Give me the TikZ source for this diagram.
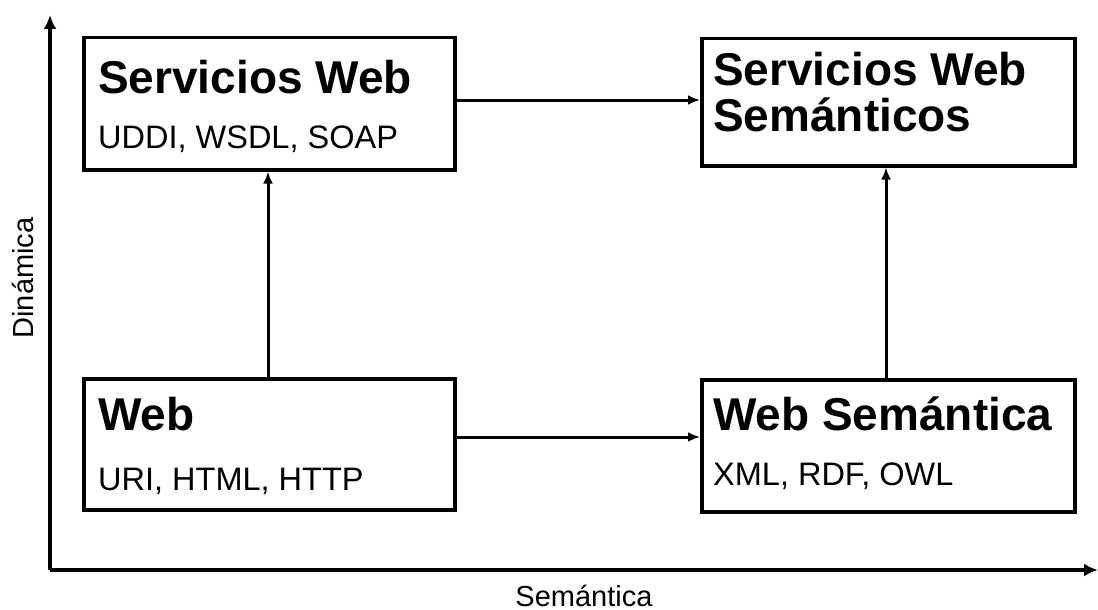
\documentclass[tikz,border=0pt]{standalone}
\usepackage{fontspec}
\setmainfont{Liberation Sans}
\usetikzlibrary{arrows.meta}
\begin{document}
\begin{tikzpicture}[x=1pt,y=-1pt,
  box/.style={draw,line width=3.5pt,anchor=north west,inner sep=0pt},
  title/.style={anchor=base west,inner sep=0pt,font=\fontsize{46}{50}\selectfont\bfseries},
  sub/.style={anchor=base west,inner sep=0pt,font=\fontsize{32.5}{36}\selectfont},
  axlabel/.style={inner sep=0pt,font=\fontsize{29}{32}\selectfont},
  link/.style={line width=3pt,-{Latex[length=12pt,width=10pt]}},
  axis/.style={line width=3.5pt,-{Latex[length=14pt,width=13pt]}}]
\useasboundingbox (0,0) rectangle (1098,610);
% boxes
\node[box,minimum width=371pt,minimum height=132pt] (sw) at (82,36) {};
\node[box,minimum width=373pt,minimum height=127pt] (sws) at (700,37) {};
\node[box,minimum width=371pt,minimum height=131pt] (web) at (82,377) {};
\node[box,minimum width=373pt,minimum height=132pt] (ws) at (700,378) {};
% box texts
\node[title] (t1) at (98,93) {Servicios Web};
\node[sub] (s1) at (98,148) {UDDI, WSDL, SOAP};
\node[title] (t2a) at (713,85) {Servicios Web};
\node[title] (t2b) at (713,131) {Semánticos};
\node[title] (t3) at (98,430) {Web};
\node[sub] (s3) at (98,490) {URI, HTML, HTTP};
\node[title] (t4) at (713,430) {Web Semántica};
\node[sub] (s4) at (713,485) {XML, RDF, OWL};
% connectors
\draw[link] (sw.east |- 0,100) -- (sws.west |- 0,100);
\draw[link] (web.east |- 0,437) -- (ws.west |- 0,437);
\draw[link] (web.north -| 268,0) -- (sw.south -| 268,0);
\draw[link] (ws.north -| 886,0) -- (sws.south -| 886,0);
% axes
\coordinate (o) at (50,570);
\coordinate (ytop) at (50,15);
\coordinate (xend) at (1098,570);
\draw[axis] (o) -- (ytop);
\draw[axis] (o) -- (xend);
\node[axlabel,rotate=90,anchor=base] (dl) at (33,278) {Dinámica};
\node[axlabel,anchor=base] (sl) at (584,606) {Semántica};
\end{tikzpicture}
\end{document}
